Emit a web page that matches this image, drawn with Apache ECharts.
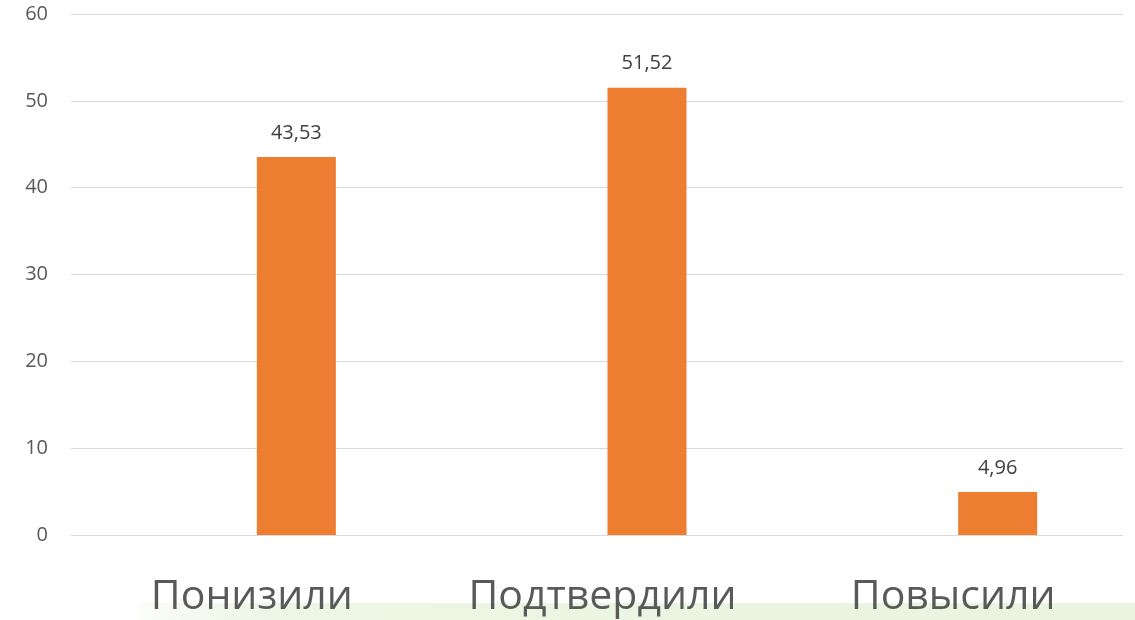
<!DOCTYPE html>
<html>
<head>
<meta charset="utf-8">
<script src="https://cdn.jsdelivr.net/npm/echarts@6/dist/echarts.min.js"></script>
<style>
  html, body { margin: 0; padding: 0; background: #fff; }
  #chart { width: 1135px; height: 620px; }
</style>
</head>
<body>
<div id="chart"></div>
<script>
// данные
const categories = ["Понизили", "Подтвердили", "Повысили"];
const values = [43.53, 51.52, 4.96];
const emptySeries = ["-", "-", "-"]; // пустой ряд из Excel, сдвигает столбцы вправо
const yTicks = { min: 0, max: 60, interval: 10 };

const chart = echarts.init(document.getElementById("chart"));
chart.setOption({
  animation: false,
  grid: { left: 71, right: 12, top: 14, bottom: 85, containLabel: false },
  graphic: [{
    type: "rect",
    shape: { x: 140, y: 603, width: 995, height: 17 },
    style: {
      fill: new echarts.graphic.LinearGradient(0, 0, 1, 0, [
        { offset: 0, color: "rgba(232,244,222,0.2)" },
        { offset: 0.15, color: "#ecf6e4" },
        { offset: 1, color: "#e9f5df" }
      ])
    },
    z: -1
  }],
  xAxis: {
    type: "category",
    data: categories,
    axisLine: { show: false },
    axisTick: { show: false },
    axisLabel: {
      margin: 42,
      fontSize: 41,
      fontFamily: "Open Sans",
      color: "#595959",
      padding: [0, 0, 0, 11]
    }
  },
  yAxis: {
    type: "value",
    min: yTicks.min,
    max: yTicks.max,
    interval: yTicks.interval,
    axisLine: { show: false },
    axisTick: { show: false },
    splitLine: { lineStyle: { color: "#d9d9d9", width: 1 } },
    axisLabel: {
      margin: 23,
      fontSize: 20,
      fontFamily: "Open Sans",
      color: "#595959"
    }
  },
  series: [
    {
      type: "bar",
      data: emptySeries,
      barWidth: 79,
      barGap: "26.6%"
    },
    {
      type: "bar",
      data: values,
      barWidth: 79,
      barGap: "26.6%",
      itemStyle: { color: "#ed7d31" },
      label: {
        show: true,
        position: "top",
        distance: 14,
        fontSize: 20,
        fontFamily: "Open Sans",
        color: "#404040",
        formatter: function (p) {
          return p.value.toFixed(2).replace(".", ",");
        }
      }
    }
  ]
});
</script>
</body>
</html>
